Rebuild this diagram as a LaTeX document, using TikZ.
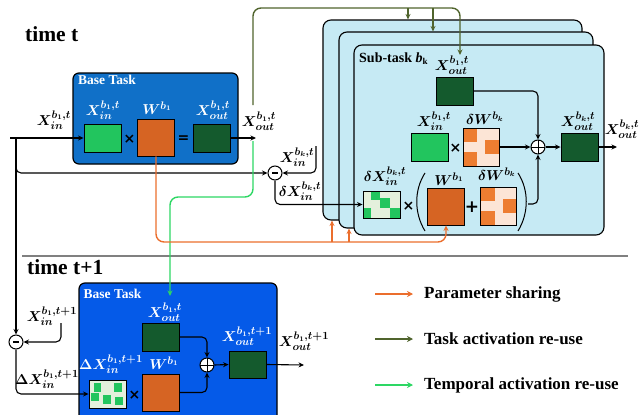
\documentclass[tikz,border=0pt]{standalone}
\usepackage{fontspec}
\setmainfont{Liberation Serif}
\newfontfamily\symfont{DejaVu Sans}
\usetikzlibrary{arrows.meta}
\definecolor{topblue}{RGB}{16,112,200}
\definecolor{botblue}{RGB}{5,90,232}
\definecolor{lgreen}{RGB}{34,197,94}
\definecolor{dgreen}{RGB}{20,90,45}
\definecolor{worange}{RGB}{214,100,35}
\definecolor{peach}{RGB}{252,229,214}
\definecolor{borange}{RGB}{237,125,49}
\definecolor{palegreen}{RGB}{228,240,220}
\definecolor{subblue}{RGB}{198,234,244}
\definecolor{olivec}{RGB}{80,100,45}
\definecolor{tgreen}{RGB}{45,215,100}
\definecolor{lorange}{RGB}{235,110,45}
\definecolor{sepgray}{RGB}{128,128,128}
\begin{document}
\begin{tikzpicture}[x=1pt,y=-1pt,
  taskbox/.style={draw=black, line width=1.2pt, rounded corners=6pt, inner sep=0},
  subbox/.style={draw=black, line width=1.1pt, rounded corners=8pt, fill=subblue, inner sep=0},
  sq/.style={draw=black, line width=0.9pt, inner sep=0, minimum width=37pt, minimum height=28pt},
  wsq/.style={sq, minimum height=37pt, fill=worange},
  dwsq/.style={sq, minimum width=36pt, minimum height=38pt, fill=peach, path picture={
     \fill[borange] (path picture bounding box.north west) rectangle ([shift={(14,14)}]path picture bounding box.north west);
     \fill[borange] ([shift={(22,12)}]path picture bounding box.north west) rectangle ([shift={(36,26)}]path picture bounding box.north west);
     \fill[borange] ([shift={(0,24)}]path picture bounding box.north west) rectangle ([shift={(14,38)}]path picture bounding box.north west);}},
  dxsq/.style={sq, minimum height=27pt, fill=palegreen, path picture={
     \fill[lgreen] ([shift={(8,0)}]path picture bounding box.north west) rectangle ([shift={(17,9)}]path picture bounding box.north west);
     \fill[lgreen] ([shift={(17,7)}]path picture bounding box.north west) rectangle ([shift={(27,17)}]path picture bounding box.north west);
     \fill[lgreen] ([shift={(27,17)}]path picture bounding box.north west) rectangle ([shift={(37,27)}]path picture bounding box.north west);
     \fill[lgreen] ([shift={(0,17)}]path picture bounding box.north west) rectangle ([shift={(8,27)}]path picture bounding box.north west);}},
  ddxsq/.style={sq, fill=palegreen, path picture={
     \fill[lgreen] ([shift={(5,3)}]path picture bounding box.north west) rectangle ([shift={(12,12)}]path picture bounding box.north west);
     \fill[lgreen] ([shift={(25,3)}]path picture bounding box.north west) rectangle ([shift={(33,12)}]path picture bounding box.north west);
     \fill[lgreen] ([shift={(2,13)}]path picture bounding box.north west) rectangle ([shift={(10,21)}]path picture bounding box.north west);
     \fill[lgreen] ([shift={(14,15)}]path picture bounding box.north west) rectangle ([shift={(22,24)}]path picture bounding box.north west);
     \fill[lgreen] ([shift={(26,17)}]path picture bounding box.north west) rectangle ([shift={(34,25)}]path picture bounding box.north west);}},
  lab/.style={inner sep=0, font=\fontsize{15}{15}\selectfont\boldmath},
  wlab/.style={lab, text=white},
  sym/.style={inner sep=0, font=\fontsize{14}{14}\selectfont\symfont\bfseries},
  arr/.style={-{Stealth[length=5.5pt,width=5pt]}, line width=1.1pt, rounded corners=5pt},
  carr/.style={-{Stealth[length=5.5pt,width=5pt]}, line width=1.4pt, rounded corners=8pt},
  minusop/.style={circle, draw, line width=1pt, minimum size=14pt, inner sep=0, fill=white,
     path picture={\draw[line width=1.3pt] ([xshift=-3pt]path picture bounding box.center) -- ([xshift=3pt]path picture bounding box.center);}},
  plusop/.style={circle, draw, line width=1pt, minimum size=14pt, inner sep=0, fill=white,
     path picture={\draw[line width=0.9pt] (path picture bounding box.west) -- (path picture bounding box.east) (path picture bounding box.north) -- (path picture bounding box.south);}},
  ttl/.style={inner sep=0, anchor=base west, font=\fontsize{21.5}{21.5}\selectfont\bfseries},
  boxttl/.style={inner sep=0, anchor=west, text=white, font=\fontsize{13.5}{13.5}\selectfont\bfseries},
  legtxt/.style={inner sep=0, anchor=west, font=\fontsize{17}{17}\selectfont\bfseries}
]
\useasboundingbox (0,0) rectangle (643,415);

% titles and separator
\node[ttl] (tt) at (25,41) {time t};
\node[ttl] (tt1) at (27,274) {time t+1};
\draw[sepgray, line width=2.5pt] (22,256) -- (628,256);

% ---------- top base task ----------
\node[taskbox, fill=topblue, minimum width=165pt, minimum height=91pt] (bt1) at (155.5,118.5) {};
\node[boxttl] (bt1t) at (78,79.5) {Base Task};
\node[sq, fill=lgreen] (xin1) at (102.5,138) {};
\node[wsq] (w1) at (156,137.5) {};
\node[sq, fill=dgreen] (xo1) at (211.5,138) {};
\node[sym] (mul1) at (129.5,139) {×};
\node[sym] (eq1) at (183.5,139) {=};
\node[wlab] (lxi1) at (103,110) {$X_{in}^{b_1,t}$};
\node[wlab] (lw1) at (157,108) {$W^{b_1}$};
\node[wlab] (lxo1) at (213,110) {$X_{out}^{b_1,t}$};
\node[lab] (lin1) at (54,120) {$X_{in}^{b_1,t}$};
\node[lab] (lout1) at (259,121) {$X_{out}^{b_1,t}$};

% ---------- sub-task stack ----------
\node[subbox, minimum width=259pt, minimum height=200pt] (back) at (452.5,120) {};
\node[subbox, minimum width=254pt, minimum height=196pt] (mid) at (466,130) {};
\node[subbox, minimum width=250pt, minimum height=190pt] (front) at (479,140) {};
\node[inner sep=0, anchor=west, font=\fontsize{14}{14}\selectfont\bfseries] (stt) at (359,58.5) {Sub-task \textit{b}\raisebox{-2.5pt}{\fontsize{9}{9}\selectfont k}};
\node[sq, fill=dgreen] (xo2) at (454.5,91) {};
\node[lab] (lxo2) at (452,65) {$X_{out}^{b_1,t}$};
\node[sq, fill=lgreen] (xi2) at (429.5,147) {};
\node[lab] (lxi2) at (434,121) {$X_{in}^{b_1,t}$};
\node[sym] (mul2) at (455.5,148) {×};
\node[dwsq] (dw1) at (481,147) {};
\node[lab] (ldw1) at (485,118.5) {$\delta W^{b_k}$};
\node[plusop] (plus1) at (538,147) {};
\node[sq, fill=dgreen] (xok) at (579.5,147) {};
\node[lab] (lxok) at (578,121) {$X_{out}^{b_k,t}$};
\node[lab] (lxok2) at (622,129) {$X_{out}^{b_k,t}$};
\node[dxsq] (dx) at (381.5,204.5) {};
\node[lab] (ldx) at (385,176) {$\delta X_{in}^{b_k,t}$};
\node[sym] (mul3) at (408.5,206) {×};
\node[wsq] (w2) at (445.5,206.5) {};
\node[lab] (lw2) at (449,179) {$W^{b_1}$};
\node[sym, font=\fontsize{17}{17}\selectfont\symfont\bfseries] (pl2) at (472,207) {+};
\node[dwsq] (dw2) at (498.5,206) {};
\node[lab] (ldw2) at (497,174) {$\delta W^{b_k}$};
\draw[line width=1pt] (425,173) .. controls (414,190) and (414,213) .. (425,231);
\draw[line width=1pt] (518,173) .. controls (529,190) and (529,213) .. (518,231);
\coordinate (rp) at (528,204);

% minus 1
\node[minusop] (minus1) at (275,173) {};
\node[lab] (lxik) at (297,157) {$X_{in}^{b_k,t}$};
\node[lab] (ldxk) at (300,191) {$\delta X_{in}^{b_k,t}$};

% ---------- bottom base task ----------
\node[taskbox, fill=botblue, minimum width=198pt, minimum height=140pt] (bt2) at (178,353) {};
\node[boxttl] (bt2t) at (83.5,294) {Base Task};
\node[sq, fill=dgreen] (xo3) at (160.5,337) {};
\node[wlab] (lxo3) at (165,312) {$X_{out}^{b_1,t}$};
\node[plusop] (plus2) at (207,365) {};
\node[sq, fill=dgreen, minimum height=27pt] (xo4) at (247.5,364.5) {};
\node[wlab] (lxo4) at (247,336) {$X_{out}^{b_1,t+1}$};
\node[lab] (lxo5) at (304,341) {$X_{out}^{b_1,t+1}$};
\node[ddxsq] (dx3) at (107.5,394) {};
\node[wlab] (ldx3) at (111,364) {$\Delta X_{in}^{b_1,t+1}$};
\node[sym] (mul4) at (134.5,395.5) {×};
\node[wsq] (w3) at (160.5,392.5) {};
\node[wlab] (lw3) at (164,363) {$W^{b_1}$};
\node[minusop] (minus2) at (16,342) {};
\node[lab] (lxi3) at (52,316) {$X_{in}^{b_1,t+1}$};
\node[lab] (ldx4) at (47,379) {$\Delta X_{in}^{b_1,t+1}$};

% ---------- black connectors ----------
\coordinate (in1) at (10,138);
\coordinate (jn) at (16,138);
\coordinate (out1) at (256,138);
\draw[arr] (in1) -- (xin1.west);
\draw[arr] (xo1.east) -- (out1);
\draw[arr] (jn) -- (minus2.north);
\draw[arr] (jn) |- (minus1.west);
\coordinate (xk) at (316,146);
\draw[arr] (xk) |- (minus1.east);
\draw[arr] (minus1.south) |- (dx.west);
\draw[arr] (xo2.east) -| (plus1.north);
\draw[arr] (dw1.east) -- (plus1.west);
\draw[arr] (rp) -| (plus1.south);
\draw[arr] (plus1.east) -- (xok.west);
\coordinate (outk) at (617,147);
\draw[arr] (xok.east) -- (outk);
\coordinate (xi3) at (61,323);
\draw[arr] (xi3) |- (minus2.east);
\draw[arr] (minus2.south) |- (dx3.west);
\draw[arr] (xo3.east) -| (plus2.north);
\draw[arr] (w3.east) -| (plus2.south);
\draw[arr] (plus2.east) -- (xo4.west);
\coordinate (out3) at (304,365);
\draw[arr] (xo4.east) -- (out3);

% ---------- coloured connectors ----------
\coordinate (os) at (253,105);
\coordinate (ot1) at (253,8);
\coordinate (ot2) at (460,8);
\coordinate (oe) at (460,55);
\coordinate (ob1) at (408,8);
\coordinate (ob2) at (433,8);
\draw[carr, olivec] (os) -- (ot1) -- (ot2) -- (oe);
\draw[carr, olivec] (ob1) -- (ob1 |- back.north);
\draw[carr, olivec] (ob2) -- (ob2 |- mid.north);

\coordinate (gs) at (253,141);
\coordinate (g1) at (253,197);
\coordinate (g2) at (170,197);
\coordinate (ge) at (170,296);
\draw[carr, tgreen] (gs) -- (g1) -- (g2) -- (ge);

\coordinate (or1) at (156,242);
\coordinate (or2) at (446,242);
\coordinate (or3) at (332,242);
\coordinate (or4) at (349,242);
\draw[carr, lorange] (w1.south) -- (or1) -- (or2) -- (or2 |- w2.south);
\draw[carr, lorange] (or3) -- (or3 |- back.south);
\draw[carr, lorange] (or4) -- (or4 |- mid.south);

% ---------- legend ----------
\coordinate (l1a) at (375,294); \coordinate (l1b) at (413,294);
\coordinate (l2a) at (375,339); \coordinate (l2b) at (413,339);
\coordinate (l3a) at (375,385); \coordinate (l3b) at (413,385);
\draw[-{Stealth[length=6pt,width=6pt]}, line width=2pt, lorange] (l1a) -- (l1b);
\draw[-{Stealth[length=6pt,width=6pt]}, line width=2pt, olivec] (l2a) -- (l2b);
\draw[-{Stealth[length=6pt,width=6pt]}, line width=2pt, tgreen] (l3a) -- (l3b);
\node[legtxt] (lg1) at (424,294) {Parameter sharing};
\node[legtxt] (lg2) at (424,339) {Task activation re-use};
\node[legtxt] (lg3) at (424,385) {Temporal activation re-use};
\end{tikzpicture}
\end{document}
